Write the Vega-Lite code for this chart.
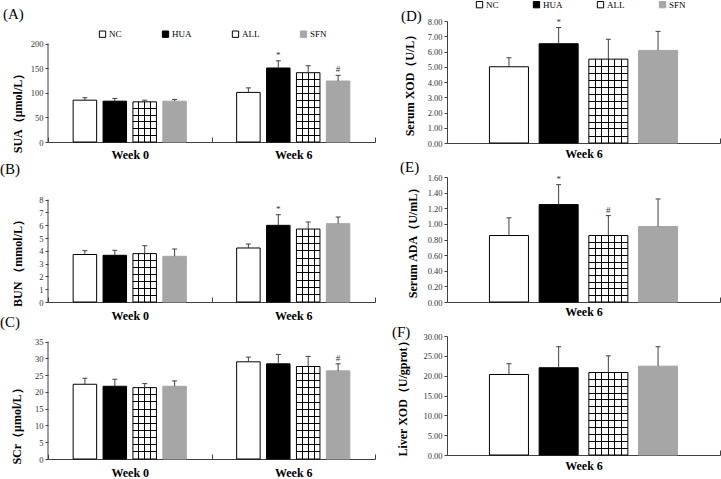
{
"$schema": "https://vega.github.io/schema/vega-lite/v6.json",
"padding": 0,
"background": "white",
"bounds": "flush",
"align": "each",
"columns": 2,
"spacing": {"row": 34, "column": 72},
"resolve": {"scale": {"x": "independent", "y": "independent", "xOffset": "independent", "fill": "independent", "stroke": "independent"}},
"config": {
 "view": {"stroke": null},
 "font": "Liberation Serif",
 "title": {"font": "Liberation Serif", "fontSize": 15, "fontWeight": "normal", "anchor": "start", "frame": "group", "color": "black"},
 "axis": {"grid": false, "domainColor": "#404040", "tickColor": "#404040", "labelFont": "Liberation Serif", "titleFont": "Liberation Serif"},
 "axisY": {"labelFont": "Liberation Serif", "labelFontSize": 8.5, "labelColor": "#333333", "tickSize": 3, "labelPadding": 2, "titleFontSize": 12, "titleFontWeight": "bold", "titleColor": "black", "labelOverlap": false}
},
"datasets": {
 "sua": [
  {"week": "Week 0", "group": "NC", "mean": 85, "upper": 90, "sig": ""},
  {"week": "Week 0", "group": "HUA", "mean": 83, "upper": 88.5, "sig": ""},
  {"week": "Week 0", "group": "ALL", "mean": 81.6, "upper": 85, "sig": ""},
  {"week": "Week 0", "group": "SFN", "mean": 83, "upper": 86.5, "sig": ""},
  {"week": "Week 6", "group": "NC", "mean": 100.8, "upper": 110, "sig": ""},
  {"week": "Week 6", "group": "HUA", "mean": 150.4, "upper": 165, "sig": "*"},
  {"week": "Week 6", "group": "ALL", "mean": 140.8, "upper": 155, "sig": ""},
  {"week": "Week 6", "group": "SFN", "mean": 123.9, "upper": 135.5, "sig": "#"}
 ],
 "bun": [
  {"week": "Week 0", "group": "NC", "mean": 3.71, "upper": 4.01, "sig": ""},
  {"week": "Week 0", "group": "HUA", "mean": 3.65, "upper": 4.04, "sig": ""},
  {"week": "Week 0", "group": "ALL", "mean": 3.78, "upper": 4.4, "sig": ""},
  {"week": "Week 0", "group": "SFN", "mean": 3.57, "upper": 4.14, "sig": ""},
  {"week": "Week 6", "group": "NC", "mean": 4.22, "upper": 4.53, "sig": ""},
  {"week": "Week 6", "group": "HUA", "mean": 5.99, "upper": 6.82, "sig": "*"},
  {"week": "Week 6", "group": "ALL", "mean": 5.7, "upper": 6.25, "sig": ""},
  {"week": "Week 6", "group": "SFN", "mean": 6.12, "upper": 6.64, "sig": ""}
 ],
 "scr": [
  {"week": "Week 0", "group": "NC", "mean": 22.3, "upper": 24.1, "sig": ""},
  {"week": "Week 0", "group": "HUA", "mean": 21.7, "upper": 23.8, "sig": ""},
  {"week": "Week 0", "group": "ALL", "mean": 21.3, "upper": 22.5, "sig": ""},
  {"week": "Week 0", "group": "SFN", "mean": 21.7, "upper": 23.3, "sig": ""},
  {"week": "Week 6", "group": "NC", "mean": 29.0, "upper": 30.4, "sig": ""},
  {"week": "Week 6", "group": "HUA", "mean": 28.4, "upper": 31.2, "sig": ""},
  {"week": "Week 6", "group": "ALL", "mean": 27.6, "upper": 30.6, "sig": ""},
  {"week": "Week 6", "group": "SFN", "mean": 26.3, "upper": 28.4, "sig": "#"}
 ],
 "sxod": [
  {"week": "Week 6", "group": "NC", "mean": 5.0, "upper": 5.59, "sig": ""},
  {"week": "Week 6", "group": "HUA", "mean": 6.51, "upper": 7.57, "sig": "*"},
  {"week": "Week 6", "group": "ALL", "mean": 5.5, "upper": 6.8, "sig": ""},
  {"week": "Week 6", "group": "SFN", "mean": 6.07, "upper": 7.32, "sig": ""}
 ],
 "sada": [
  {"week": "Week 6", "group": "NC", "mean": 0.851, "upper": 1.077, "sig": ""},
  {"week": "Week 6", "group": "HUA", "mean": 1.247, "upper": 1.502, "sig": "*"},
  {"week": "Week 6", "group": "ALL", "mean": 0.851, "upper": 1.106, "sig": "#"},
  {"week": "Week 6", "group": "SFN", "mean": 0.966, "upper": 1.319, "sig": ""}
 ],
 "lxod": [
  {"week": "Week 6", "group": "NC", "mean": 20.3, "upper": 23.0, "sig": ""},
  {"week": "Week 6", "group": "HUA", "mean": 22.0, "upper": 27.3, "sig": ""},
  {"week": "Week 6", "group": "ALL", "mean": 20.8, "upper": 25.0, "sig": ""},
  {"week": "Week 6", "group": "SFN", "mean": 22.4, "upper": 27.3, "sig": ""}
 ]
},
"concat": [
 {
  "width": 327, "height": 121,
  "title": {"text": "(A)", "dx": -45, "offset": -1},
  "data": {"name": "sua"},
  "layer": [
   {"mark": {"type": "bar", "strokeWidth": 1},
    "encoding": {
     "x": {"field": "week", "type": "nominal", "title": null, "scale": {"domain": ["Week 0", "Week 6"], "paddingInner": 0, "paddingOuter": 0}, "axis": {"labelAngle": 0, "labelFont": "Liberation Serif", "labelFontSize": 12, "labelFontWeight": "bold", "labelColor": "black", "tickBand": "extent", "tickExtra": true, "tickSize": -5, "labelPadding": 12.5}},
     "xOffset": {"field": "group", "type": "nominal", "scale": {"domain": ["NC", "HUA", "ALL", "SFN"], "paddingInner": 0.214, "paddingOuter": 0.841}},
     "y": {"field": "mean", "type": "quantitative", "title": "SUA（μmol/L）", "scale": {"domain": [0, 245.9], "nice": false}, "axis": {"values": [0, 50, 100, 150, 200], "tickCount": 50, "format": "d", "labelOverlap": false, "domain": false, "titleY": 89, "titlePadding": 6}},
     "fill": {"field": "group", "type": "nominal", "scale": {"domain": ["NC", "HUA", "ALL", "SFN"], "range": ["#ffffff", "#000000", "#ffffff", "#a6a6a6"]}, "legend": {"orient": "none", "legendX": 50, "legendY": 8.5, "direction": "horizontal", "title": null, "symbolType": "square", "symbolSize": 40, "symbolStrokeWidth": 1, "labelFont": "Liberation Serif", "labelFontSize": 9, "labelColor": "black", "labelOffset": 2, "columnPadding": 38, "encode": {"symbols": {"update": {"fill": [{"test": "datum.value === 'ALL'", "value": {"gradient": "linear", "x1": 0, "y1": 0, "x2": 0, "y2": 1, "stops": [{"offset": 0, "color": "#ffffff"}, {"offset": 0.42, "color": "#ffffff"}, {"offset": 0.42, "color": "#000000"}, {"offset": 0.58, "color": "#000000"}, {"offset": 0.58, "color": "#ffffff"}, {"offset": 1, "color": "#ffffff"}]}}, {"test": "datum.value === 'HUA'", "value": "#000000"}, {"test": "datum.value === 'SFN'", "value": "#a6a6a6"}, {"value": "#ffffff"}]}}}}},
     "stroke": {"field": "group", "type": "nominal", "scale": {"domain": ["NC", "HUA", "ALL", "SFN"], "range": ["#000000", "#000000", "#000000", "#a6a6a6"]}, "legend": {"orient": "none", "legendX": 50, "legendY": 8.5, "direction": "horizontal", "title": null, "symbolType": "square", "symbolSize": 40, "symbolStrokeWidth": 1, "labelFont": "Liberation Serif", "labelFontSize": 9, "labelColor": "black", "labelOffset": 2, "columnPadding": 38}}
    }},
   {"transform": [{"filter": "datum.group === 'ALL'"}],
    "mark": {"type": "bar", "fill": {"gradient": "linear", "x1": 0, "y1": 0, "x2": 1, "y2": 0, "stops": [{"offset": 0, "color": "transparent"}, {"offset": 0.229, "color": "transparent"}, {"offset": 0.229, "color": "black"}, {"offset": 0.271, "color": "black"}, {"offset": 0.271, "color": "transparent"}, {"offset": 0.479, "color": "transparent"}, {"offset": 0.479, "color": "black"}, {"offset": 0.521, "color": "black"}, {"offset": 0.521, "color": "transparent"}, {"offset": 0.729, "color": "transparent"}, {"offset": 0.729, "color": "black"}, {"offset": 0.771, "color": "black"}, {"offset": 0.771, "color": "transparent"}, {"offset": 1, "color": "transparent"}]}},
    "encoding": {
     "x": {"field": "week", "type": "nominal", "title": null, "scale": {"domain": ["Week 0", "Week 6"]}},
     "xOffset": {"field": "group", "type": "nominal", "scale": {"domain": ["NC", "HUA", "ALL", "SFN"]}},
     "y": {"field": "mean", "type": "quantitative", "title": "SUA（μmol/L）"}
    }},
   {"transform": [{"filter": "datum.group === 'ALL' && datum.week === 'Week 0'"}],
    "mark": {"type": "bar", "fill": {"gradient": "linear", "x1": 0, "y1": 0, "x2": 0, "y2": 1, "stops": [{"offset": 0, "color": "transparent"}, {"offset": 0.154, "color": "transparent"}, {"offset": 0.154, "color": "black"}, {"offset": 0.179, "color": "black"}, {"offset": 0.179, "color": "transparent"}, {"offset": 0.321, "color": "transparent"}, {"offset": 0.321, "color": "black"}, {"offset": 0.346, "color": "black"}, {"offset": 0.346, "color": "transparent"}, {"offset": 0.487, "color": "transparent"}, {"offset": 0.487, "color": "black"}, {"offset": 0.513, "color": "black"}, {"offset": 0.513, "color": "transparent"}, {"offset": 0.654, "color": "transparent"}, {"offset": 0.654, "color": "black"}, {"offset": 0.679, "color": "black"}, {"offset": 0.679, "color": "transparent"}, {"offset": 0.821, "color": "transparent"}, {"offset": 0.821, "color": "black"}, {"offset": 0.846, "color": "black"}, {"offset": 0.846, "color": "transparent"}, {"offset": 1, "color": "transparent"}]}},
    "encoding": {
     "x": {"field": "week", "type": "nominal", "title": null, "scale": {"domain": ["Week 0", "Week 6"]}},
     "xOffset": {"field": "group", "type": "nominal", "scale": {"domain": ["NC", "HUA", "ALL", "SFN"]}},
     "y": {"field": "mean", "type": "quantitative", "title": "SUA（μmol/L）"}
    }},
   {"transform": [{"filter": "datum.group === 'ALL' && datum.week === 'Week 6'"}],
    "mark": {"type": "bar", "fill": {"gradient": "linear", "x1": 0, "y1": 0, "x2": 0, "y2": 1, "stops": [{"offset": 0, "color": "transparent"}, {"offset": 0.093, "color": "transparent"}, {"offset": 0.093, "color": "black"}, {"offset": 0.107, "color": "black"}, {"offset": 0.107, "color": "transparent"}, {"offset": 0.193, "color": "transparent"}, {"offset": 0.193, "color": "black"}, {"offset": 0.207, "color": "black"}, {"offset": 0.207, "color": "transparent"}, {"offset": 0.293, "color": "transparent"}, {"offset": 0.293, "color": "black"}, {"offset": 0.307, "color": "black"}, {"offset": 0.307, "color": "transparent"}, {"offset": 0.393, "color": "transparent"}, {"offset": 0.393, "color": "black"}, {"offset": 0.407, "color": "black"}, {"offset": 0.407, "color": "transparent"}, {"offset": 0.493, "color": "transparent"}, {"offset": 0.493, "color": "black"}, {"offset": 0.507, "color": "black"}, {"offset": 0.507, "color": "transparent"}, {"offset": 0.593, "color": "transparent"}, {"offset": 0.593, "color": "black"}, {"offset": 0.607, "color": "black"}, {"offset": 0.607, "color": "transparent"}, {"offset": 0.693, "color": "transparent"}, {"offset": 0.693, "color": "black"}, {"offset": 0.707, "color": "black"}, {"offset": 0.707, "color": "transparent"}, {"offset": 0.793, "color": "transparent"}, {"offset": 0.793, "color": "black"}, {"offset": 0.807, "color": "black"}, {"offset": 0.807, "color": "transparent"}, {"offset": 0.893, "color": "transparent"}, {"offset": 0.893, "color": "black"}, {"offset": 0.907, "color": "black"}, {"offset": 0.907, "color": "transparent"}, {"offset": 1, "color": "transparent"}]}},
    "encoding": {
     "x": {"field": "week", "type": "nominal", "title": null, "scale": {"domain": ["Week 0", "Week 6"]}},
     "xOffset": {"field": "group", "type": "nominal", "scale": {"domain": ["NC", "HUA", "ALL", "SFN"]}},
     "y": {"field": "mean", "type": "quantitative", "title": "SUA（μmol/L）"}
    }},
   {"mark": {"type": "rule", "color": "#404040", "strokeWidth": 1},
    "encoding": {
     "x": {"field": "week", "type": "nominal", "title": null, "scale": {"domain": ["Week 0", "Week 6"]}},
     "xOffset": {"field": "group", "type": "nominal", "scale": {"domain": ["NC", "HUA", "ALL", "SFN"]}},
     "y": {"field": "mean", "type": "quantitative", "title": "SUA（μmol/L）"},
     "y2": {"field": "upper"}
    }},
   {"mark": {"type": "tick", "color": "#404040", "size": 5, "thickness": 1, "opacity": 1},
    "encoding": {
     "x": {"field": "week", "type": "nominal", "title": null, "scale": {"domain": ["Week 0", "Week 6"]}},
     "xOffset": {"field": "group", "type": "nominal", "scale": {"domain": ["NC", "HUA", "ALL", "SFN"]}},
     "y": {"field": "upper", "type": "quantitative", "title": "SUA（μmol/L）"}
    }},
   {"mark": {"type": "text", "font": "Liberation Serif", "fontSize": 9, "dy": -6, "color": "#333333"},
    "encoding": {
     "x": {"field": "week", "type": "nominal", "title": null, "scale": {"domain": ["Week 0", "Week 6"]}},
     "xOffset": {"field": "group", "type": "nominal", "scale": {"domain": ["NC", "HUA", "ALL", "SFN"]}},
     "y": {"field": "upper", "type": "quantitative", "title": "SUA（μmol/L）"},
     "text": {"field": "sig", "type": "nominal"}
    }},
   {"transform": [{"sample": 1}],
    "mark": {"type": "rule", "color": "#404040", "strokeWidth": 1},
    "encoding": {
     "x": {"datum": "Week 0", "type": "nominal", "bandPosition": 0, "title": null},
     "y": {"datum": 0, "type": "quantitative", "title": "SUA（μmol/L）"},
     "y2": {"datum": 200}
    }}
  ]
 },
 {
  "width": 273, "height": 122,
  "title": {"text": "(D)", "dx": -46, "offset": -24},
  "data": {"name": "sxod"},
  "layer": [
   {"mark": {"type": "bar", "strokeWidth": 1},
    "encoding": {
     "x": {"field": "week", "type": "nominal", "title": null, "scale": {"domain": ["Week 6"], "paddingInner": 0, "paddingOuter": 0}, "axis": {"labelAngle": 0, "labelFont": "Liberation Serif", "labelFontSize": 12, "labelFontWeight": "bold", "labelColor": "black", "tickBand": "extent", "tickExtra": true, "tickSize": -5, "labelPadding": 10.5}},
     "xOffset": {"field": "group", "type": "nominal", "scale": {"domain": ["NC", "HUA", "ALL", "SFN"], "paddingInner": 0.215, "paddingOuter": 0.854}},
     "y": {"field": "mean", "type": "quantitative", "title": "Serum XOD（U/L）", "scale": {"domain": [0, 8], "nice": false}, "axis": {"values": [0, 1, 2, 3, 4, 5, 6, 7, 8], "tickCount": 50, "format": ".2f", "labelOverlap": false, "titlePadding": 11}},
     "fill": {"field": "group", "type": "nominal", "scale": {"domain": ["NC", "HUA", "ALL", "SFN"], "range": ["#ffffff", "#000000", "#ffffff", "#a6a6a6"]}, "legend": {"orient": "none", "legendX": 28, "legendY": -21, "direction": "horizontal", "title": null, "symbolType": "square", "symbolSize": 40, "symbolStrokeWidth": 1, "labelFont": "Liberation Serif", "labelFontSize": 9, "labelColor": "black", "labelOffset": 2, "columnPadding": 32, "encode": {"symbols": {"update": {"fill": [{"test": "datum.value === 'ALL'", "value": {"gradient": "linear", "x1": 0, "y1": 0, "x2": 0, "y2": 1, "stops": [{"offset": 0, "color": "#ffffff"}, {"offset": 0.42, "color": "#ffffff"}, {"offset": 0.42, "color": "#000000"}, {"offset": 0.58, "color": "#000000"}, {"offset": 0.58, "color": "#ffffff"}, {"offset": 1, "color": "#ffffff"}]}}, {"test": "datum.value === 'HUA'", "value": "#000000"}, {"test": "datum.value === 'SFN'", "value": "#a6a6a6"}, {"value": "#ffffff"}]}}}}},
     "stroke": {"field": "group", "type": "nominal", "scale": {"domain": ["NC", "HUA", "ALL", "SFN"], "range": ["#000000", "#000000", "#000000", "#a6a6a6"]}, "legend": {"orient": "none", "legendX": 28, "legendY": -21, "direction": "horizontal", "title": null, "symbolType": "square", "symbolSize": 40, "symbolStrokeWidth": 1, "labelFont": "Liberation Serif", "labelFontSize": 9, "labelColor": "black", "labelOffset": 2, "columnPadding": 32}}
    }},
   {"transform": [{"filter": "datum.group === 'ALL'"}],
    "mark": {"type": "bar", "fill": {"gradient": "linear", "x1": 0, "y1": 0, "x2": 1, "y2": 0, "stops": [{"offset": 0, "color": "transparent"}, {"offset": 0.154, "color": "transparent"}, {"offset": 0.154, "color": "black"}, {"offset": 0.179, "color": "black"}, {"offset": 0.179, "color": "transparent"}, {"offset": 0.321, "color": "transparent"}, {"offset": 0.321, "color": "black"}, {"offset": 0.346, "color": "black"}, {"offset": 0.346, "color": "transparent"}, {"offset": 0.487, "color": "transparent"}, {"offset": 0.487, "color": "black"}, {"offset": 0.513, "color": "black"}, {"offset": 0.513, "color": "transparent"}, {"offset": 0.654, "color": "transparent"}, {"offset": 0.654, "color": "black"}, {"offset": 0.679, "color": "black"}, {"offset": 0.679, "color": "transparent"}, {"offset": 0.821, "color": "transparent"}, {"offset": 0.821, "color": "black"}, {"offset": 0.846, "color": "black"}, {"offset": 0.846, "color": "transparent"}, {"offset": 1, "color": "transparent"}]}},
    "encoding": {
     "x": {"field": "week", "type": "nominal", "title": null, "scale": {"domain": ["Week 6"]}},
     "xOffset": {"field": "group", "type": "nominal", "scale": {"domain": ["NC", "HUA", "ALL", "SFN"]}},
     "y": {"field": "mean", "type": "quantitative", "title": "Serum XOD（U/L）"}
    }},
   {"transform": [{"filter": "datum.group === 'ALL'"}],
    "mark": {"type": "bar", "fill": {"gradient": "linear", "x1": 0, "y1": 0, "x2": 0, "y2": 1, "stops": [{"offset": 0, "color": "transparent"}, {"offset": 0.077, "color": "transparent"}, {"offset": 0.077, "color": "black"}, {"offset": 0.089, "color": "black"}, {"offset": 0.089, "color": "transparent"}, {"offset": 0.161, "color": "transparent"}, {"offset": 0.161, "color": "black"}, {"offset": 0.173, "color": "black"}, {"offset": 0.173, "color": "transparent"}, {"offset": 0.244, "color": "transparent"}, {"offset": 0.244, "color": "black"}, {"offset": 0.256, "color": "black"}, {"offset": 0.256, "color": "transparent"}, {"offset": 0.327, "color": "transparent"}, {"offset": 0.327, "color": "black"}, {"offset": 0.339, "color": "black"}, {"offset": 0.339, "color": "transparent"}, {"offset": 0.411, "color": "transparent"}, {"offset": 0.411, "color": "black"}, {"offset": 0.423, "color": "black"}, {"offset": 0.423, "color": "transparent"}, {"offset": 0.494, "color": "transparent"}, {"offset": 0.494, "color": "black"}, {"offset": 0.506, "color": "black"}, {"offset": 0.506, "color": "transparent"}, {"offset": 0.577, "color": "transparent"}, {"offset": 0.577, "color": "black"}, {"offset": 0.589, "color": "black"}, {"offset": 0.589, "color": "transparent"}, {"offset": 0.661, "color": "transparent"}, {"offset": 0.661, "color": "black"}, {"offset": 0.673, "color": "black"}, {"offset": 0.673, "color": "transparent"}, {"offset": 0.744, "color": "transparent"}, {"offset": 0.744, "color": "black"}, {"offset": 0.756, "color": "black"}, {"offset": 0.756, "color": "transparent"}, {"offset": 0.827, "color": "transparent"}, {"offset": 0.827, "color": "black"}, {"offset": 0.839, "color": "black"}, {"offset": 0.839, "color": "transparent"}, {"offset": 0.911, "color": "transparent"}, {"offset": 0.911, "color": "black"}, {"offset": 0.923, "color": "black"}, {"offset": 0.923, "color": "transparent"}, {"offset": 1, "color": "transparent"}]}},
    "encoding": {
     "x": {"field": "week", "type": "nominal", "title": null, "scale": {"domain": ["Week 6"]}},
     "xOffset": {"field": "group", "type": "nominal", "scale": {"domain": ["NC", "HUA", "ALL", "SFN"]}},
     "y": {"field": "mean", "type": "quantitative", "title": "Serum XOD（U/L）"}
    }},
   {"mark": {"type": "rule", "color": "#404040", "strokeWidth": 1},
    "encoding": {
     "x": {"field": "week", "type": "nominal", "title": null, "scale": {"domain": ["Week 6"]}},
     "xOffset": {"field": "group", "type": "nominal", "scale": {"domain": ["NC", "HUA", "ALL", "SFN"]}},
     "y": {"field": "mean", "type": "quantitative", "title": "Serum XOD（U/L）"},
     "y2": {"field": "upper"}
    }},
   {"mark": {"type": "tick", "color": "#404040", "size": 5, "thickness": 1, "opacity": 1},
    "encoding": {
     "x": {"field": "week", "type": "nominal", "title": null, "scale": {"domain": ["Week 6"]}},
     "xOffset": {"field": "group", "type": "nominal", "scale": {"domain": ["NC", "HUA", "ALL", "SFN"]}},
     "y": {"field": "upper", "type": "quantitative", "title": "Serum XOD（U/L）"}
    }},
   {"mark": {"type": "text", "font": "Liberation Serif", "fontSize": 9, "dy": -6, "color": "#333333"},
    "encoding": {
     "x": {"field": "week", "type": "nominal", "title": null, "scale": {"domain": ["Week 6"]}},
     "xOffset": {"field": "group", "type": "nominal", "scale": {"domain": ["NC", "HUA", "ALL", "SFN"]}},
     "y": {"field": "upper", "type": "quantitative", "title": "Serum XOD（U/L）"},
     "text": {"field": "sig", "type": "nominal"}
    }}
  ]
 },
 {
  "width": 327, "height": 125,
  "title": {"text": "(B)", "dx": -48, "offset": 0},
  "data": {"name": "bun"},
  "layer": [
   {"mark": {"type": "bar", "strokeWidth": 1},
    "encoding": {
     "x": {"field": "week", "type": "nominal", "title": null, "scale": {"domain": ["Week 0", "Week 6"], "paddingInner": 0, "paddingOuter": 0}, "axis": {"labelAngle": 0, "labelFont": "Liberation Serif", "labelFontSize": 12, "labelFontWeight": "bold", "labelColor": "black", "tickBand": "extent", "tickExtra": true, "tickSize": -5, "labelPadding": 13.2}},
     "xOffset": {"field": "group", "type": "nominal", "scale": {"domain": ["NC", "HUA", "ALL", "SFN"], "paddingInner": 0.214, "paddingOuter": 0.841}},
     "y": {"field": "mean", "type": "quantitative", "title": "BUN （mmol/L）", "scale": {"domain": [0, 9.766], "nice": false}, "axis": {"values": [0, 1, 2, 3, 4, 5, 6, 7, 8], "tickCount": 50, "format": "d", "labelOverlap": false, "domain": false, "titleY": 83, "titlePadding": 14}},
     "fill": {"field": "group", "type": "nominal", "scale": {"domain": ["NC", "HUA", "ALL", "SFN"], "range": ["#ffffff", "#000000", "#ffffff", "#a6a6a6"]}, "legend": null},
     "stroke": {"field": "group", "type": "nominal", "scale": {"domain": ["NC", "HUA", "ALL", "SFN"], "range": ["#000000", "#000000", "#000000", "#a6a6a6"]}, "legend": null}
    }},
   {"transform": [{"filter": "datum.group === 'ALL'"}],
    "mark": {"type": "bar", "fill": {"gradient": "linear", "x1": 0, "y1": 0, "x2": 1, "y2": 0, "stops": [{"offset": 0, "color": "transparent"}, {"offset": 0.229, "color": "transparent"}, {"offset": 0.229, "color": "black"}, {"offset": 0.271, "color": "black"}, {"offset": 0.271, "color": "transparent"}, {"offset": 0.479, "color": "transparent"}, {"offset": 0.479, "color": "black"}, {"offset": 0.521, "color": "black"}, {"offset": 0.521, "color": "transparent"}, {"offset": 0.729, "color": "transparent"}, {"offset": 0.729, "color": "black"}, {"offset": 0.771, "color": "black"}, {"offset": 0.771, "color": "transparent"}, {"offset": 1, "color": "transparent"}]}},
    "encoding": {
     "x": {"field": "week", "type": "nominal", "title": null, "scale": {"domain": ["Week 0", "Week 6"]}},
     "xOffset": {"field": "group", "type": "nominal", "scale": {"domain": ["NC", "HUA", "ALL", "SFN"]}},
     "y": {"field": "mean", "type": "quantitative", "title": "BUN （mmol/L）"}
    }},
   {"transform": [{"filter": "datum.group === 'ALL' && datum.week === 'Week 0'"}],
    "mark": {"type": "bar", "fill": {"gradient": "linear", "x1": 0, "y1": 0, "x2": 0, "y2": 1, "stops": [{"offset": 0, "color": "transparent"}, {"offset": 0.133, "color": "transparent"}, {"offset": 0.133, "color": "black"}, {"offset": 0.153, "color": "black"}, {"offset": 0.153, "color": "transparent"}, {"offset": 0.275, "color": "transparent"}, {"offset": 0.275, "color": "black"}, {"offset": 0.296, "color": "black"}, {"offset": 0.296, "color": "transparent"}, {"offset": 0.418, "color": "transparent"}, {"offset": 0.418, "color": "black"}, {"offset": 0.439, "color": "black"}, {"offset": 0.439, "color": "transparent"}, {"offset": 0.561, "color": "transparent"}, {"offset": 0.561, "color": "black"}, {"offset": 0.582, "color": "black"}, {"offset": 0.582, "color": "transparent"}, {"offset": 0.704, "color": "transparent"}, {"offset": 0.704, "color": "black"}, {"offset": 0.725, "color": "black"}, {"offset": 0.725, "color": "transparent"}, {"offset": 0.847, "color": "transparent"}, {"offset": 0.847, "color": "black"}, {"offset": 0.867, "color": "black"}, {"offset": 0.867, "color": "transparent"}, {"offset": 1, "color": "transparent"}]}},
    "encoding": {
     "x": {"field": "week", "type": "nominal", "title": null, "scale": {"domain": ["Week 0", "Week 6"]}},
     "xOffset": {"field": "group", "type": "nominal", "scale": {"domain": ["NC", "HUA", "ALL", "SFN"]}},
     "y": {"field": "mean", "type": "quantitative", "title": "BUN （mmol/L）"}
    }},
   {"transform": [{"filter": "datum.group === 'ALL' && datum.week === 'Week 6'"}],
    "mark": {"type": "bar", "fill": {"gradient": "linear", "x1": 0, "y1": 0, "x2": 0, "y2": 1, "stops": [{"offset": 0, "color": "transparent"}, {"offset": 0.093, "color": "transparent"}, {"offset": 0.093, "color": "black"}, {"offset": 0.107, "color": "black"}, {"offset": 0.107, "color": "transparent"}, {"offset": 0.193, "color": "transparent"}, {"offset": 0.193, "color": "black"}, {"offset": 0.207, "color": "black"}, {"offset": 0.207, "color": "transparent"}, {"offset": 0.293, "color": "transparent"}, {"offset": 0.293, "color": "black"}, {"offset": 0.307, "color": "black"}, {"offset": 0.307, "color": "transparent"}, {"offset": 0.393, "color": "transparent"}, {"offset": 0.393, "color": "black"}, {"offset": 0.407, "color": "black"}, {"offset": 0.407, "color": "transparent"}, {"offset": 0.493, "color": "transparent"}, {"offset": 0.493, "color": "black"}, {"offset": 0.507, "color": "black"}, {"offset": 0.507, "color": "transparent"}, {"offset": 0.593, "color": "transparent"}, {"offset": 0.593, "color": "black"}, {"offset": 0.607, "color": "black"}, {"offset": 0.607, "color": "transparent"}, {"offset": 0.693, "color": "transparent"}, {"offset": 0.693, "color": "black"}, {"offset": 0.707, "color": "black"}, {"offset": 0.707, "color": "transparent"}, {"offset": 0.793, "color": "transparent"}, {"offset": 0.793, "color": "black"}, {"offset": 0.807, "color": "black"}, {"offset": 0.807, "color": "transparent"}, {"offset": 0.893, "color": "transparent"}, {"offset": 0.893, "color": "black"}, {"offset": 0.907, "color": "black"}, {"offset": 0.907, "color": "transparent"}, {"offset": 1, "color": "transparent"}]}},
    "encoding": {
     "x": {"field": "week", "type": "nominal", "title": null, "scale": {"domain": ["Week 0", "Week 6"]}},
     "xOffset": {"field": "group", "type": "nominal", "scale": {"domain": ["NC", "HUA", "ALL", "SFN"]}},
     "y": {"field": "mean", "type": "quantitative", "title": "BUN （mmol/L）"}
    }},
   {"mark": {"type": "rule", "color": "#404040", "strokeWidth": 1},
    "encoding": {
     "x": {"field": "week", "type": "nominal", "title": null, "scale": {"domain": ["Week 0", "Week 6"]}},
     "xOffset": {"field": "group", "type": "nominal", "scale": {"domain": ["NC", "HUA", "ALL", "SFN"]}},
     "y": {"field": "mean", "type": "quantitative", "title": "BUN （mmol/L）"},
     "y2": {"field": "upper"}
    }},
   {"mark": {"type": "tick", "color": "#404040", "size": 5, "thickness": 1, "opacity": 1},
    "encoding": {
     "x": {"field": "week", "type": "nominal", "title": null, "scale": {"domain": ["Week 0", "Week 6"]}},
     "xOffset": {"field": "group", "type": "nominal", "scale": {"domain": ["NC", "HUA", "ALL", "SFN"]}},
     "y": {"field": "upper", "type": "quantitative", "title": "BUN （mmol/L）"}
    }},
   {"mark": {"type": "text", "font": "Liberation Serif", "fontSize": 9, "dy": -6, "color": "#333333"},
    "encoding": {
     "x": {"field": "week", "type": "nominal", "title": null, "scale": {"domain": ["Week 0", "Week 6"]}},
     "xOffset": {"field": "group", "type": "nominal", "scale": {"domain": ["NC", "HUA", "ALL", "SFN"]}},
     "y": {"field": "upper", "type": "quantitative", "title": "BUN （mmol/L）"},
     "text": {"field": "sig", "type": "nominal"}
    }},
   {"transform": [{"sample": 1}],
    "mark": {"type": "rule", "color": "#404040", "strokeWidth": 1},
    "encoding": {
     "x": {"datum": "Week 0", "type": "nominal", "bandPosition": 0, "title": null},
     "y": {"datum": 0, "type": "quantitative", "title": "BUN （mmol/L）"},
     "y2": {"datum": 8}
    }}
  ]
 },
 {
  "width": 273, "height": 125,
  "title": {"text": "(E)", "dx": -47, "offset": -2},
  "data": {"name": "sada"},
  "layer": [
   {"mark": {"type": "bar", "strokeWidth": 1},
    "encoding": {
     "x": {"field": "week", "type": "nominal", "title": null, "scale": {"domain": ["Week 6"], "paddingInner": 0, "paddingOuter": 0}, "axis": {"labelAngle": 0, "labelFont": "Liberation Serif", "labelFontSize": 12, "labelFontWeight": "bold", "labelColor": "black", "tickBand": "extent", "tickExtra": true, "tickSize": -5, "labelPadding": 9.5}},
     "xOffset": {"field": "group", "type": "nominal", "scale": {"domain": ["NC", "HUA", "ALL", "SFN"], "paddingInner": 0.215, "paddingOuter": 0.854}},
     "y": {"field": "mean", "type": "quantitative", "title": "Serum ADA（U/mL）", "scale": {"domain": [0, 1.6], "nice": false}, "axis": {"values": [0, 0.2, 0.4, 0.6, 0.8, 1.0, 1.2, 1.4, 1.6], "tickCount": 50, "format": ".2f", "labelOverlap": false, "titlePadding": 8}},
     "fill": {"field": "group", "type": "nominal", "scale": {"domain": ["NC", "HUA", "ALL", "SFN"], "range": ["#ffffff", "#000000", "#ffffff", "#a6a6a6"]}, "legend": null},
     "stroke": {"field": "group", "type": "nominal", "scale": {"domain": ["NC", "HUA", "ALL", "SFN"], "range": ["#000000", "#000000", "#000000", "#a6a6a6"]}, "legend": null}
    }},
   {"transform": [{"filter": "datum.group === 'ALL'"}],
    "mark": {"type": "bar", "fill": {"gradient": "linear", "x1": 0, "y1": 0, "x2": 1, "y2": 0, "stops": [{"offset": 0, "color": "transparent"}, {"offset": 0.154, "color": "transparent"}, {"offset": 0.154, "color": "black"}, {"offset": 0.179, "color": "black"}, {"offset": 0.179, "color": "transparent"}, {"offset": 0.321, "color": "transparent"}, {"offset": 0.321, "color": "black"}, {"offset": 0.346, "color": "black"}, {"offset": 0.346, "color": "transparent"}, {"offset": 0.487, "color": "transparent"}, {"offset": 0.487, "color": "black"}, {"offset": 0.513, "color": "black"}, {"offset": 0.513, "color": "transparent"}, {"offset": 0.654, "color": "transparent"}, {"offset": 0.654, "color": "black"}, {"offset": 0.679, "color": "black"}, {"offset": 0.679, "color": "transparent"}, {"offset": 0.821, "color": "transparent"}, {"offset": 0.821, "color": "black"}, {"offset": 0.846, "color": "black"}, {"offset": 0.846, "color": "transparent"}, {"offset": 1, "color": "transparent"}]}},
    "encoding": {
     "x": {"field": "week", "type": "nominal", "title": null, "scale": {"domain": ["Week 6"]}},
     "xOffset": {"field": "group", "type": "nominal", "scale": {"domain": ["NC", "HUA", "ALL", "SFN"]}},
     "y": {"field": "mean", "type": "quantitative", "title": "Serum ADA（U/mL）"}
    }},
   {"transform": [{"filter": "datum.group === 'ALL'"}],
    "mark": {"type": "bar", "fill": {"gradient": "linear", "x1": 0, "y1": 0, "x2": 0, "y2": 1, "stops": [{"offset": 0, "color": "transparent"}, {"offset": 0.093, "color": "transparent"}, {"offset": 0.093, "color": "black"}, {"offset": 0.107, "color": "black"}, {"offset": 0.107, "color": "transparent"}, {"offset": 0.193, "color": "transparent"}, {"offset": 0.193, "color": "black"}, {"offset": 0.207, "color": "black"}, {"offset": 0.207, "color": "transparent"}, {"offset": 0.293, "color": "transparent"}, {"offset": 0.293, "color": "black"}, {"offset": 0.307, "color": "black"}, {"offset": 0.307, "color": "transparent"}, {"offset": 0.393, "color": "transparent"}, {"offset": 0.393, "color": "black"}, {"offset": 0.407, "color": "black"}, {"offset": 0.407, "color": "transparent"}, {"offset": 0.493, "color": "transparent"}, {"offset": 0.493, "color": "black"}, {"offset": 0.507, "color": "black"}, {"offset": 0.507, "color": "transparent"}, {"offset": 0.593, "color": "transparent"}, {"offset": 0.593, "color": "black"}, {"offset": 0.607, "color": "black"}, {"offset": 0.607, "color": "transparent"}, {"offset": 0.693, "color": "transparent"}, {"offset": 0.693, "color": "black"}, {"offset": 0.707, "color": "black"}, {"offset": 0.707, "color": "transparent"}, {"offset": 0.793, "color": "transparent"}, {"offset": 0.793, "color": "black"}, {"offset": 0.807, "color": "black"}, {"offset": 0.807, "color": "transparent"}, {"offset": 0.893, "color": "transparent"}, {"offset": 0.893, "color": "black"}, {"offset": 0.907, "color": "black"}, {"offset": 0.907, "color": "transparent"}, {"offset": 1, "color": "transparent"}]}},
    "encoding": {
     "x": {"field": "week", "type": "nominal", "title": null, "scale": {"domain": ["Week 6"]}},
     "xOffset": {"field": "group", "type": "nominal", "scale": {"domain": ["NC", "HUA", "ALL", "SFN"]}},
     "y": {"field": "mean", "type": "quantitative", "title": "Serum ADA（U/mL）"}
    }},
   {"mark": {"type": "rule", "color": "#404040", "strokeWidth": 1},
    "encoding": {
     "x": {"field": "week", "type": "nominal", "title": null, "scale": {"domain": ["Week 6"]}},
     "xOffset": {"field": "group", "type": "nominal", "scale": {"domain": ["NC", "HUA", "ALL", "SFN"]}},
     "y": {"field": "mean", "type": "quantitative", "title": "Serum ADA（U/mL）"},
     "y2": {"field": "upper"}
    }},
   {"mark": {"type": "tick", "color": "#404040", "size": 5, "thickness": 1, "opacity": 1},
    "encoding": {
     "x": {"field": "week", "type": "nominal", "title": null, "scale": {"domain": ["Week 6"]}},
     "xOffset": {"field": "group", "type": "nominal", "scale": {"domain": ["NC", "HUA", "ALL", "SFN"]}},
     "y": {"field": "upper", "type": "quantitative", "title": "Serum ADA（U/mL）"}
    }},
   {"mark": {"type": "text", "font": "Liberation Serif", "fontSize": 9, "dy": -6, "color": "#333333"},
    "encoding": {
     "x": {"field": "week", "type": "nominal", "title": null, "scale": {"domain": ["Week 6"]}},
     "xOffset": {"field": "group", "type": "nominal", "scale": {"domain": ["NC", "HUA", "ALL", "SFN"]}},
     "y": {"field": "upper", "type": "quantitative", "title": "Serum ADA（U/mL）"},
     "text": {"field": "sig", "type": "nominal"}
    }}
  ]
 },
 {
  "width": 327, "height": 123,
  "title": {"text": "(C)", "dx": -48, "offset": 6},
  "data": {"name": "scr"},
  "layer": [
   {"mark": {"type": "bar", "strokeWidth": 1},
    "encoding": {
     "x": {"field": "week", "type": "nominal", "title": null, "scale": {"domain": ["Week 0", "Week 6"], "paddingInner": 0, "paddingOuter": 0}, "axis": {"labelAngle": 0, "labelFont": "Liberation Serif", "labelFontSize": 12, "labelFontWeight": "bold", "labelColor": "black", "tickBand": "extent", "tickExtra": true, "tickSize": -5, "labelPadding": 13.5}},
     "xOffset": {"field": "group", "type": "nominal", "scale": {"domain": ["NC", "HUA", "ALL", "SFN"], "paddingInner": 0.214, "paddingOuter": 0.841}},
     "y": {"field": "mean", "type": "quantitative", "title": "SCr（μmol/L）", "scale": {"domain": [0, 36.7], "nice": false}, "axis": {"values": [0, 5, 10, 15, 20, 25, 30, 35], "tickCount": 50, "format": "d", "labelOverlap": false, "domain": false, "titleY": 87, "titlePadding": 11}},
     "fill": {"field": "group", "type": "nominal", "scale": {"domain": ["NC", "HUA", "ALL", "SFN"], "range": ["#ffffff", "#000000", "#ffffff", "#a6a6a6"]}, "legend": null},
     "stroke": {"field": "group", "type": "nominal", "scale": {"domain": ["NC", "HUA", "ALL", "SFN"], "range": ["#000000", "#000000", "#000000", "#a6a6a6"]}, "legend": null}
    }},
   {"transform": [{"filter": "datum.group === 'ALL'"}],
    "mark": {"type": "bar", "fill": {"gradient": "linear", "x1": 0, "y1": 0, "x2": 1, "y2": 0, "stops": [{"offset": 0, "color": "transparent"}, {"offset": 0.229, "color": "transparent"}, {"offset": 0.229, "color": "black"}, {"offset": 0.271, "color": "black"}, {"offset": 0.271, "color": "transparent"}, {"offset": 0.479, "color": "transparent"}, {"offset": 0.479, "color": "black"}, {"offset": 0.521, "color": "black"}, {"offset": 0.521, "color": "transparent"}, {"offset": 0.729, "color": "transparent"}, {"offset": 0.729, "color": "black"}, {"offset": 0.771, "color": "black"}, {"offset": 0.771, "color": "transparent"}, {"offset": 1, "color": "transparent"}]}},
    "encoding": {
     "x": {"field": "week", "type": "nominal", "title": null, "scale": {"domain": ["Week 0", "Week 6"]}},
     "xOffset": {"field": "group", "type": "nominal", "scale": {"domain": ["NC", "HUA", "ALL", "SFN"]}},
     "y": {"field": "mean", "type": "quantitative", "title": "SCr（μmol/L）"}
    }},
   {"transform": [{"filter": "datum.group === 'ALL' && datum.week === 'Week 0'"}],
    "mark": {"type": "bar", "fill": {"gradient": "linear", "x1": 0, "y1": 0, "x2": 0, "y2": 1, "stops": [{"offset": 0, "color": "transparent"}, {"offset": 0.093, "color": "transparent"}, {"offset": 0.093, "color": "black"}, {"offset": 0.107, "color": "black"}, {"offset": 0.107, "color": "transparent"}, {"offset": 0.193, "color": "transparent"}, {"offset": 0.193, "color": "black"}, {"offset": 0.207, "color": "black"}, {"offset": 0.207, "color": "transparent"}, {"offset": 0.293, "color": "transparent"}, {"offset": 0.293, "color": "black"}, {"offset": 0.307, "color": "black"}, {"offset": 0.307, "color": "transparent"}, {"offset": 0.393, "color": "transparent"}, {"offset": 0.393, "color": "black"}, {"offset": 0.407, "color": "black"}, {"offset": 0.407, "color": "transparent"}, {"offset": 0.493, "color": "transparent"}, {"offset": 0.493, "color": "black"}, {"offset": 0.507, "color": "black"}, {"offset": 0.507, "color": "transparent"}, {"offset": 0.593, "color": "transparent"}, {"offset": 0.593, "color": "black"}, {"offset": 0.607, "color": "black"}, {"offset": 0.607, "color": "transparent"}, {"offset": 0.693, "color": "transparent"}, {"offset": 0.693, "color": "black"}, {"offset": 0.707, "color": "black"}, {"offset": 0.707, "color": "transparent"}, {"offset": 0.793, "color": "transparent"}, {"offset": 0.793, "color": "black"}, {"offset": 0.807, "color": "black"}, {"offset": 0.807, "color": "transparent"}, {"offset": 0.893, "color": "transparent"}, {"offset": 0.893, "color": "black"}, {"offset": 0.907, "color": "black"}, {"offset": 0.907, "color": "transparent"}, {"offset": 1, "color": "transparent"}]}},
    "encoding": {
     "x": {"field": "week", "type": "nominal", "title": null, "scale": {"domain": ["Week 0", "Week 6"]}},
     "xOffset": {"field": "group", "type": "nominal", "scale": {"domain": ["NC", "HUA", "ALL", "SFN"]}},
     "y": {"field": "mean", "type": "quantitative", "title": "SCr（μmol/L）"}
    }},
   {"transform": [{"filter": "datum.group === 'ALL' && datum.week === 'Week 6'"}],
    "mark": {"type": "bar", "fill": {"gradient": "linear", "x1": 0, "y1": 0, "x2": 0, "y2": 1, "stops": [{"offset": 0, "color": "transparent"}, {"offset": 0.072, "color": "transparent"}, {"offset": 0.072, "color": "black"}, {"offset": 0.082, "color": "black"}, {"offset": 0.082, "color": "transparent"}, {"offset": 0.148, "color": "transparent"}, {"offset": 0.148, "color": "black"}, {"offset": 0.159, "color": "black"}, {"offset": 0.159, "color": "transparent"}, {"offset": 0.225, "color": "transparent"}, {"offset": 0.225, "color": "black"}, {"offset": 0.236, "color": "black"}, {"offset": 0.236, "color": "transparent"}, {"offset": 0.302, "color": "transparent"}, {"offset": 0.302, "color": "black"}, {"offset": 0.313, "color": "black"}, {"offset": 0.313, "color": "transparent"}, {"offset": 0.379, "color": "transparent"}, {"offset": 0.379, "color": "black"}, {"offset": 0.39, "color": "black"}, {"offset": 0.39, "color": "transparent"}, {"offset": 0.456, "color": "transparent"}, {"offset": 0.456, "color": "black"}, {"offset": 0.467, "color": "black"}, {"offset": 0.467, "color": "transparent"}, {"offset": 0.533, "color": "transparent"}, {"offset": 0.533, "color": "black"}, {"offset": 0.544, "color": "black"}, {"offset": 0.544, "color": "transparent"}, {"offset": 0.61, "color": "transparent"}, {"offset": 0.61, "color": "black"}, {"offset": 0.621, "color": "black"}, {"offset": 0.621, "color": "transparent"}, {"offset": 0.687, "color": "transparent"}, {"offset": 0.687, "color": "black"}, {"offset": 0.698, "color": "black"}, {"offset": 0.698, "color": "transparent"}, {"offset": 0.764, "color": "transparent"}, {"offset": 0.764, "color": "black"}, {"offset": 0.775, "color": "black"}, {"offset": 0.775, "color": "transparent"}, {"offset": 0.841, "color": "transparent"}, {"offset": 0.841, "color": "black"}, {"offset": 0.852, "color": "black"}, {"offset": 0.852, "color": "transparent"}, {"offset": 0.918, "color": "transparent"}, {"offset": 0.918, "color": "black"}, {"offset": 0.928, "color": "black"}, {"offset": 0.928, "color": "transparent"}, {"offset": 1, "color": "transparent"}]}},
    "encoding": {
     "x": {"field": "week", "type": "nominal", "title": null, "scale": {"domain": ["Week 0", "Week 6"]}},
     "xOffset": {"field": "group", "type": "nominal", "scale": {"domain": ["NC", "HUA", "ALL", "SFN"]}},
     "y": {"field": "mean", "type": "quantitative", "title": "SCr（μmol/L）"}
    }},
   {"mark": {"type": "rule", "color": "#404040", "strokeWidth": 1},
    "encoding": {
     "x": {"field": "week", "type": "nominal", "title": null, "scale": {"domain": ["Week 0", "Week 6"]}},
     "xOffset": {"field": "group", "type": "nominal", "scale": {"domain": ["NC", "HUA", "ALL", "SFN"]}},
     "y": {"field": "mean", "type": "quantitative", "title": "SCr（μmol/L）"},
     "y2": {"field": "upper"}
    }},
   {"mark": {"type": "tick", "color": "#404040", "size": 5, "thickness": 1, "opacity": 1},
    "encoding": {
     "x": {"field": "week", "type": "nominal", "title": null, "scale": {"domain": ["Week 0", "Week 6"]}},
     "xOffset": {"field": "group", "type": "nominal", "scale": {"domain": ["NC", "HUA", "ALL", "SFN"]}},
     "y": {"field": "upper", "type": "quantitative", "title": "SCr（μmol/L）"}
    }},
   {"mark": {"type": "text", "font": "Liberation Serif", "fontSize": 9, "dy": -6, "color": "#333333"},
    "encoding": {
     "x": {"field": "week", "type": "nominal", "title": null, "scale": {"domain": ["Week 0", "Week 6"]}},
     "xOffset": {"field": "group", "type": "nominal", "scale": {"domain": ["NC", "HUA", "ALL", "SFN"]}},
     "y": {"field": "upper", "type": "quantitative", "title": "SCr（μmol/L）"},
     "text": {"field": "sig", "type": "nominal"}
    }},
   {"transform": [{"sample": 1}],
    "mark": {"type": "rule", "color": "#404040", "strokeWidth": 1},
    "encoding": {
     "x": {"datum": "Week 0", "type": "nominal", "bandPosition": 0, "title": null},
     "y": {"datum": 0, "type": "quantitative", "title": "SCr（μmol/L）"},
     "y2": {"datum": 35}
    }}
  ]
 },
 {
  "width": 273, "height": 119,
  "title": {"text": "(F)", "dx": -55, "offset": -8},
  "data": {"name": "lxod"},
  "layer": [
   {"mark": {"type": "bar", "strokeWidth": 1},
    "encoding": {
     "x": {"field": "week", "type": "nominal", "title": null, "scale": {"domain": ["Week 6"], "paddingInner": 0, "paddingOuter": 0}, "axis": {"labelAngle": 0, "labelFont": "Liberation Serif", "labelFontSize": 12, "labelFontWeight": "bold", "labelColor": "black", "tickBand": "extent", "tickExtra": true, "tickSize": -5, "labelPadding": 10.2}},
     "xOffset": {"field": "group", "type": "nominal", "scale": {"domain": ["NC", "HUA", "ALL", "SFN"], "paddingInner": 0.215, "paddingOuter": 0.854}},
     "y": {"field": "mean", "type": "quantitative", "title": "Liver XOD（U/gprot）", "scale": {"domain": [0, 30], "nice": false}, "axis": {"values": [0, 5, 10, 15, 20, 25, 30], "tickCount": 50, "format": ".2f", "labelOverlap": false, "titlePadding": 13}},
     "fill": {"field": "group", "type": "nominal", "scale": {"domain": ["NC", "HUA", "ALL", "SFN"], "range": ["#ffffff", "#000000", "#ffffff", "#a6a6a6"]}, "legend": null},
     "stroke": {"field": "group", "type": "nominal", "scale": {"domain": ["NC", "HUA", "ALL", "SFN"], "range": ["#000000", "#000000", "#000000", "#a6a6a6"]}, "legend": null}
    }},
   {"transform": [{"filter": "datum.group === 'ALL'"}],
    "mark": {"type": "bar", "fill": {"gradient": "linear", "x1": 0, "y1": 0, "x2": 1, "y2": 0, "stops": [{"offset": 0, "color": "transparent"}, {"offset": 0.154, "color": "transparent"}, {"offset": 0.154, "color": "black"}, {"offset": 0.179, "color": "black"}, {"offset": 0.179, "color": "transparent"}, {"offset": 0.321, "color": "transparent"}, {"offset": 0.321, "color": "black"}, {"offset": 0.346, "color": "black"}, {"offset": 0.346, "color": "transparent"}, {"offset": 0.487, "color": "transparent"}, {"offset": 0.487, "color": "black"}, {"offset": 0.513, "color": "black"}, {"offset": 0.513, "color": "transparent"}, {"offset": 0.654, "color": "transparent"}, {"offset": 0.654, "color": "black"}, {"offset": 0.679, "color": "black"}, {"offset": 0.679, "color": "transparent"}, {"offset": 0.821, "color": "transparent"}, {"offset": 0.821, "color": "black"}, {"offset": 0.846, "color": "black"}, {"offset": 0.846, "color": "transparent"}, {"offset": 1, "color": "transparent"}]}},
    "encoding": {
     "x": {"field": "week", "type": "nominal", "title": null, "scale": {"domain": ["Week 6"]}},
     "xOffset": {"field": "group", "type": "nominal", "scale": {"domain": ["NC", "HUA", "ALL", "SFN"]}},
     "y": {"field": "mean", "type": "quantitative", "title": "Liver XOD（U/gprot）"}
    }},
   {"transform": [{"filter": "datum.group === 'ALL'"}],
    "mark": {"type": "bar", "fill": {"gradient": "linear", "x1": 0, "y1": 0, "x2": 0, "y2": 1, "stops": [{"offset": 0, "color": "transparent"}, {"offset": 0.077, "color": "transparent"}, {"offset": 0.077, "color": "black"}, {"offset": 0.089, "color": "black"}, {"offset": 0.089, "color": "transparent"}, {"offset": 0.161, "color": "transparent"}, {"offset": 0.161, "color": "black"}, {"offset": 0.173, "color": "black"}, {"offset": 0.173, "color": "transparent"}, {"offset": 0.244, "color": "transparent"}, {"offset": 0.244, "color": "black"}, {"offset": 0.256, "color": "black"}, {"offset": 0.256, "color": "transparent"}, {"offset": 0.327, "color": "transparent"}, {"offset": 0.327, "color": "black"}, {"offset": 0.339, "color": "black"}, {"offset": 0.339, "color": "transparent"}, {"offset": 0.411, "color": "transparent"}, {"offset": 0.411, "color": "black"}, {"offset": 0.423, "color": "black"}, {"offset": 0.423, "color": "transparent"}, {"offset": 0.494, "color": "transparent"}, {"offset": 0.494, "color": "black"}, {"offset": 0.506, "color": "black"}, {"offset": 0.506, "color": "transparent"}, {"offset": 0.577, "color": "transparent"}, {"offset": 0.577, "color": "black"}, {"offset": 0.589, "color": "black"}, {"offset": 0.589, "color": "transparent"}, {"offset": 0.661, "color": "transparent"}, {"offset": 0.661, "color": "black"}, {"offset": 0.673, "color": "black"}, {"offset": 0.673, "color": "transparent"}, {"offset": 0.744, "color": "transparent"}, {"offset": 0.744, "color": "black"}, {"offset": 0.756, "color": "black"}, {"offset": 0.756, "color": "transparent"}, {"offset": 0.827, "color": "transparent"}, {"offset": 0.827, "color": "black"}, {"offset": 0.839, "color": "black"}, {"offset": 0.839, "color": "transparent"}, {"offset": 0.911, "color": "transparent"}, {"offset": 0.911, "color": "black"}, {"offset": 0.923, "color": "black"}, {"offset": 0.923, "color": "transparent"}, {"offset": 1, "color": "transparent"}]}},
    "encoding": {
     "x": {"field": "week", "type": "nominal", "title": null, "scale": {"domain": ["Week 6"]}},
     "xOffset": {"field": "group", "type": "nominal", "scale": {"domain": ["NC", "HUA", "ALL", "SFN"]}},
     "y": {"field": "mean", "type": "quantitative", "title": "Liver XOD（U/gprot）"}
    }},
   {"mark": {"type": "rule", "color": "#404040", "strokeWidth": 1},
    "encoding": {
     "x": {"field": "week", "type": "nominal", "title": null, "scale": {"domain": ["Week 6"]}},
     "xOffset": {"field": "group", "type": "nominal", "scale": {"domain": ["NC", "HUA", "ALL", "SFN"]}},
     "y": {"field": "mean", "type": "quantitative", "title": "Liver XOD（U/gprot）"},
     "y2": {"field": "upper"}
    }},
   {"mark": {"type": "tick", "color": "#404040", "size": 5, "thickness": 1, "opacity": 1},
    "encoding": {
     "x": {"field": "week", "type": "nominal", "title": null, "scale": {"domain": ["Week 6"]}},
     "xOffset": {"field": "group", "type": "nominal", "scale": {"domain": ["NC", "HUA", "ALL", "SFN"]}},
     "y": {"field": "upper", "type": "quantitative", "title": "Liver XOD（U/gprot）"}
    }}
  ]
 }
]
}
